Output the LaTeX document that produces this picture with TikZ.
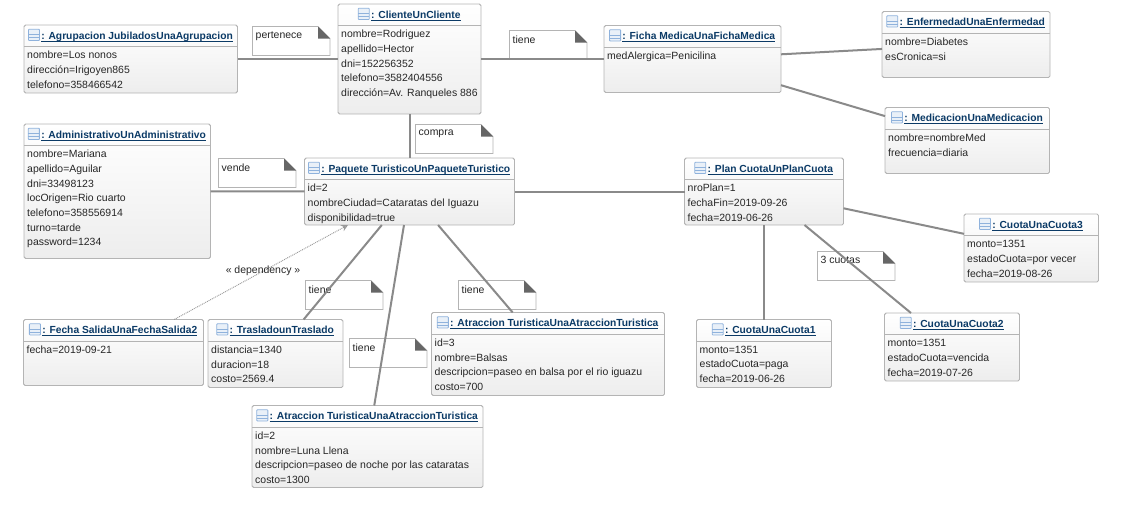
\documentclass[tikz,border=0pt]{standalone}
\usepackage{fontspec}
\setmainfont{Liberation Sans}
\usepackage{tikz}
\usetikzlibrary{arrows.meta}
\usepackage{xcolor}
\definecolor{boxline}{HTML}{B4B4B4}
\definecolor{titleblue}{HTML}{0B3A66}
\definecolor{iconblue}{HTML}{8FB2DC}
\definecolor{assocgray}{HTML}{8A8A8A}
\definecolor{foldgray}{HTML}{666666}
\definecolor{bodytext}{HTML}{262626}

\tikzset{
  objbox/.style={draw=boxline,line width=0.7pt,rounded corners=1.2pt,top color=white,bottom color=black!7,
    anchor=north west,inner sep=0pt,outer sep=0pt},
  objtitle/.style={font=\fontsize{7.7}{10}\selectfont\bfseries,text=titleblue,inner sep=0pt,anchor=base},
  objattrs/.style={font=\fontsize{7.85}{11}\selectfont,text=bodytext,align=left,anchor=north west,
    inner xsep=2.2pt,inner ysep=3.6pt},
  noteline/.style={draw=boxline,fill=white},
  notetext/.style={font=\fontsize{7.85}{10}\selectfont,text=bodytext,anchor=north west,
    inner xsep=2.2pt,inner ysep=3.5pt},
  assoc/.style={draw=assocgray,line width=1.5pt},
  depend/.style={draw=black!40,dash pattern=on 0.7pt off 0.7pt,line width=0.7pt,
    -{Stealth[open,fill=black!25,length=5pt,width=5pt]}},
}

% id, left, top, width, height, title, attributes
\newcommand{\objbox}[7]{
  \node[objbox,minimum width=#4*0.75pt,minimum height=#5*0.75pt] (#1) at (#2,#3) {};
  \draw[boxline] ([yshift=-16pt]#1.north west) -- ([yshift=-16pt]#1.north east);
  \node[objtitle] (#1title) at ([yshift=-10.5pt]#1.north) {\hspace*{9.5pt}\underline{\smash{: #6}}};
  \draw[iconblue,fill=iconblue!20,rounded corners=0.5pt,line width=0.6pt] ([yshift=-1.1pt]#1title.base west) rectangle ++(8.3pt,8.4pt);
  \draw[iconblue,line width=0.8pt] ([yshift=1.1pt]#1title.base west) -- ++(8.3pt,0);
  \draw[iconblue,line width=0.8pt] ([yshift=3.2pt]#1title.base west) -- ++(8.3pt,0);
  \node[objattrs] (#1attrs) at ([yshift=-16pt]#1.north west) {#7};
}
% id, left, top, text
\newcommand{\notebox}[4]{
  \draw[noteline] (#2,#3) -- ++(65.5,0) -- ++(12,12) -- ++(0,17) -- ++(-77.5,0) -- cycle;
  \fill[foldgray] (#2+65.5,#3) -- ++(12,12) -- ++(-12,0) -- cycle;
  \node[notetext] (#1) at (#2,#3) {#4};
}

\begin{document}
\begin{tikzpicture}[x=0.75pt,y=-0.75pt]
  \useasboundingbox (0,0) rectangle (1124,507);
  % Notes
  \notebox{notepertenece}{252.5}{26.5}{pertenece}
  \notebox{notetieneficha}{509.5}{30.5}{tiene}
  \notebox{notecompra}{415.5}{124.5}{compra}
  \notebox{notevende}{218.5}{158.5}{vende}
  \notebox{notecuotas}{817.5}{251.5}{3 cuotas}
  \notebox{notetraslado}{305.5}{280.5}{tiene}
  \notebox{notebalsas}{458.5}{280.5}{tiene}
  \notebox{noteluna}{349.5}{338.5}{tiene}
  % Objects, top row
  \objbox{agrupacion}{24}{25}{213.5}{68}{Agrupacion JubiladosUnaAgrupacion}{nombre=Los nonos\\dirección=Irigoyen865\\telefono=358466542}
  \objbox{cliente}{338}{4}{143}{110}{ClienteUnCliente}{nombre=Rodriguez\\apellido=Hector\\dni=152256352\\telefono=3582404556\\dirección=Av. Ranqueles 886}
  \objbox{ficha}{604}{25.5}{177}{67}{Ficha MedicaUnaFichaMedica}{medAlergica=Penicilina}
  \objbox{enfermedad}{882}{11.5}{168}{66}{EnfermedadUnaEnfermedad}{nombre=Diabetes\\esCronica=si}
  \objbox{medicacion}{885}{107.5}{164.5}{66}{MedicacionUnaMedicacion}{nombre=nombreMed\\frecuencia=diaria}
  % Objects, middle row
  \objbox{administrativo}{24}{124}{186.5}{134.5}{AdministrativoUnAdministrativo}{nombre=Mariana\\apellido=Aguilar\\dni=33498123\\locOrigen=Rio cuarto\\telefono=358556914\\turno=tarde\\password=1234}
  \objbox{paquete}{304.5}{158}{210}{67}{Paquete TuristicoUnPaqueteTuristico}{id=2\\nombreCiudad=Cataratas del Iguazu\\disponibilidad=true}
  \objbox{plan}{684.5}{158}{159}{67}{Plan CuotaUnPlanCuota}{nroPlan=1\\fechaFin=2019-09-26\\fecha=2019-06-26}
  \objbox{cuotatres}{964}{214}{134.5}{68}{CuotaUnaCuota3}{monto=1351\\estadoCuota=por vecer\\fecha=2019-08-26}
  % Objects, bottom row
  \objbox{fecha}{23.5}{319.5}{180}{66}{Fecha SalidaUnaFechaSalida2}{fecha=2019-09-21}
  \objbox{traslado}{208}{319.5}{135}{68}{TrasladounTraslado}{distancia=1340\\duracion=18\\costo=2569.4}
  \objbox{balsas}{431.5}{312.5}{233}{83}{Atraccion TuristicaUnaAtraccionTuristica}{id=3\\nombre=Balsas\\descripcion=paseo en balsa por el rio iguazu\\costo=700}
  \objbox{luna}{252}{405.5}{231}{82}{Atraccion TuristicaUnaAtraccionTuristica}{id=2\\nombre=Luna Llena\\descripcion=paseo de noche por las cataratas\\costo=1300}
  \objbox{cuotauno}{696.5}{319.5}{135}{68}{CuotaUnaCuota1}{monto=1351\\estadoCuota=paga\\fecha=2019-06-26}
  \objbox{cuotados}{884.5}{313}{135}{68}{CuotaUnaCuota2}{monto=1351\\estadoCuota=vencida\\fecha=2019-07-26}
  % Links
  \foreach \a/\b in {agrupacion/cliente,cliente/ficha,cliente/paquete,administrativo/paquete,
    paquete/plan,ficha/enfermedad,ficha/medicacion,plan/cuotatres,plan/cuotauno,plan/cuotados,
    paquete/traslado,paquete/luna,paquete/balsas} {
    \draw[assoc] (\a) -- (\b);
  }
  % Dependency
  \draw[depend] (fecha) -- (paquete);
  \node[font=\fontsize{7.85}{10}\selectfont,text=bodytext] (deplabel) at (263,270.5) {« dependency »};
\end{tikzpicture}
\end{document}
